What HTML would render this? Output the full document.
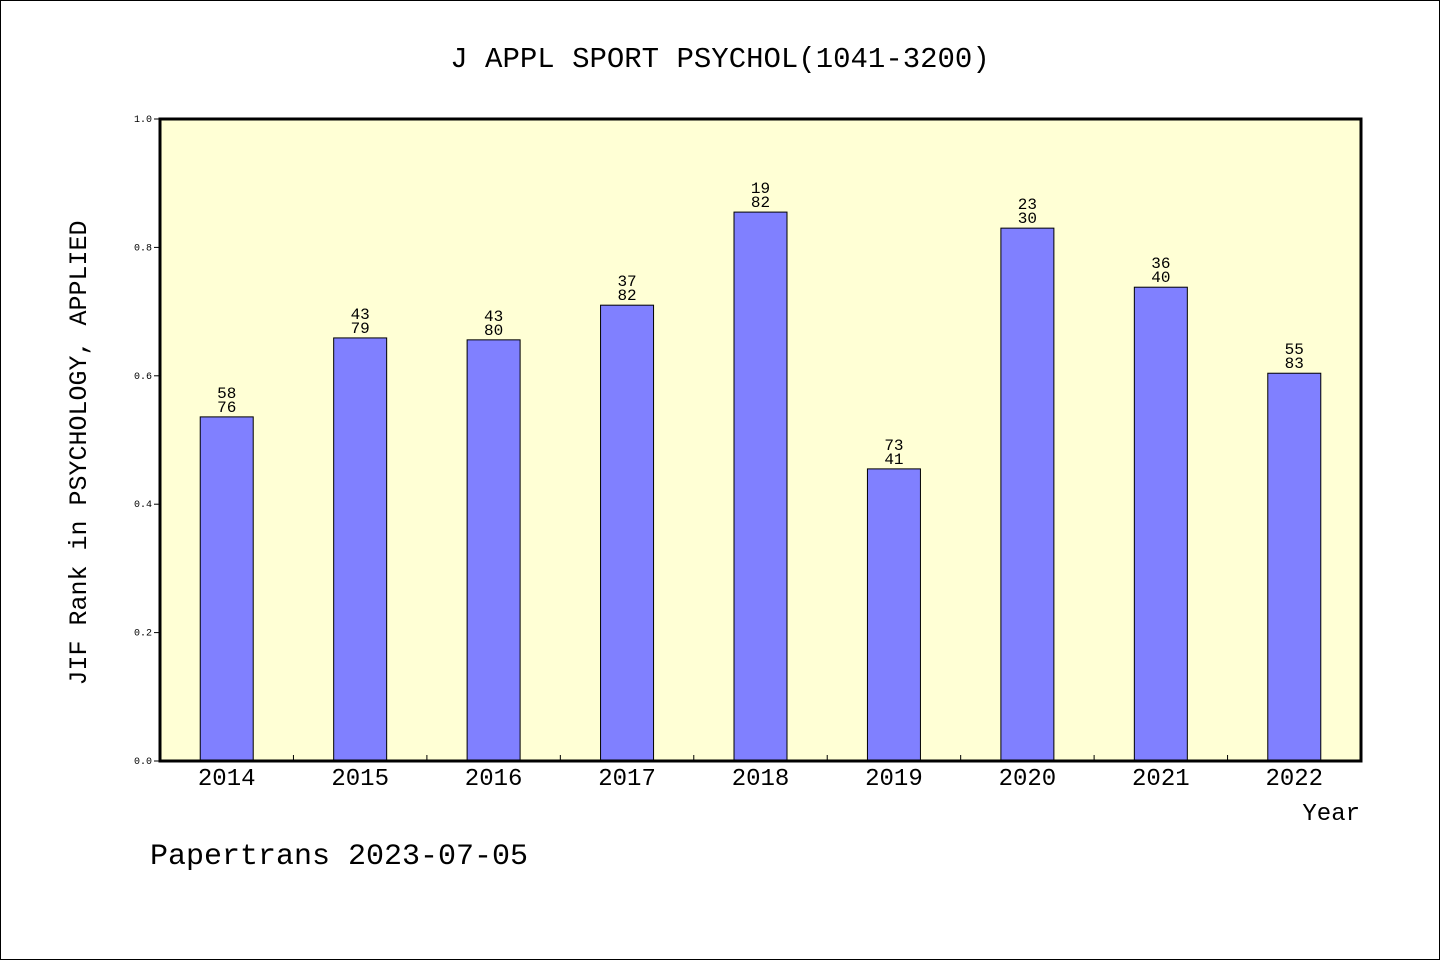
<!DOCTYPE html>
<html><head><meta charset="utf-8"><style>
body{margin:0;background:#fff}
svg text{font-family:"Liberation Mono","WenQuanYi Zen Hei",monospace;fill:#000}
</style></head><body>
<svg width="1440" height="960" xmlns="http://www.w3.org/2000/svg">
<rect x="0.5" y="0.5" width="1439" height="959" fill="#fff" stroke="#000"/>
<text x="720" y="67" font-size="29" text-anchor="middle">J APPL SPORT PSYCHOL(1041-3200)</text>
<rect x="160" y="119" width="1201" height="642" fill="#ffffd5"/>
<g id="bars"></g>
<g id="axes"></g>
<rect x="160" y="119" width="1201" height="642" fill="none" stroke="#000" stroke-width="3"/>
<text transform="translate(86,453) rotate(-90)" font-size="25" text-anchor="middle">JIF Rank in PSYCHOLOGY, APPLIED</text>
<text x="1360" y="820" font-size="24" text-anchor="end">Year</text>
<text x="150" y="864" font-size="30">Papertrans 2023-07-05</text>
</svg>
<script>
const years=["2014","2015","2016","2017","2018","2019","2020","2021","2022"];
const values=[0.536,0.659,0.656,0.710,0.855,0.455,0.830,0.738,0.604];
const ranks=["58","43","43","37","19","73","23","36","55"];
const totals=["76","79","80","82","82","41","30","40","83"];
const yTicks=["0.0","0.2","0.4","0.6","0.8","1.0"];
const NS="http://www.w3.org/2000/svg";
const x0=160,w=1201,yb=761,h=642,slot=w/years.length,bw=53;
const y=v=>yb-v*h;
const bars=document.getElementById('bars'),axes=document.getElementById('axes');
function mk(t,a,p){const e=document.createElementNS(NS,t);for(const k in a)e.setAttribute(k,a[k]);p.appendChild(e);return e;}
years.forEach((yr,i)=>{
 const cx=x0+slot*(i+0.5);
 const r=mk('rect',{x:cx-bw/2,y:y(values[i]),width:bw,height:yb-y(values[i]),fill:'#8080ff',stroke:'#000','stroke-width':1},bars);
 
 
 const t1=mk('text',{x:cx,y:y(values[i])-19,'font-size':16,'text-anchor':'middle'},bars);t1.textContent=ranks[i];
 
 
 const t2=mk('text',{x:cx,y:y(values[i])-5,'font-size':16,'text-anchor':'middle'},bars);t2.textContent=totals[i];
 
 
 const xl=mk('text',{x:cx,y:785,'font-size':24,'text-anchor':'middle'},axes);xl.textContent=yr;
 
 
 if(i>0){const tk=mk('line',{x1:x0+slot*i,x2:x0+slot*i,y1:yb,y2:yb-6,stroke:'#000'},axes);
 
 }
});
yTicks.forEach(l=>{
 const v=parseFloat(l);
 const tk=mk('line',{x1:x0-6,x2:x0,y1:y(v),y2:y(v),stroke:'#000'},axes);
 
 
 const t=mk('text',{x:x0-8,y:y(v)+3,'font-size':10,'text-anchor':'end'},axes);t.textContent=l;
 
 
});
</script>
</body></html>
